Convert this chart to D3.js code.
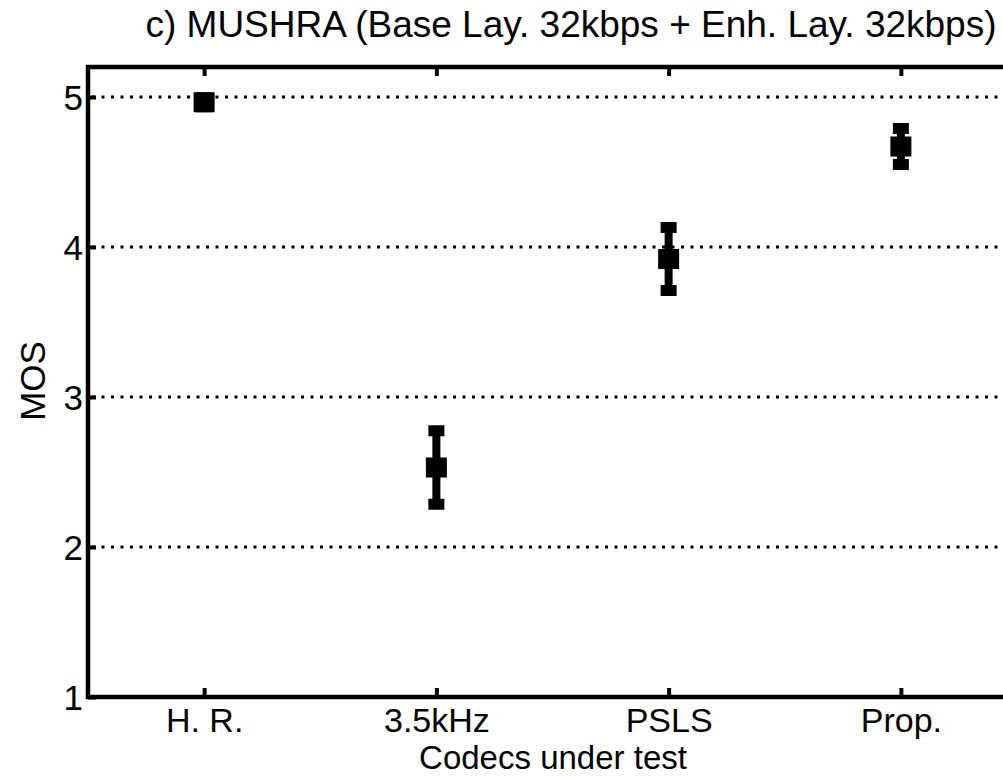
<!DOCTYPE html>
<html>
<head>
<meta charset="utf-8">
<script src="https://cdn.jsdelivr.net/npm/d3@7"></script>
<style>
  body { margin: 0; background: #fff; }
  svg { display: block; }
  text { font-family: "Liberation Sans", Arial, sans-serif; fill: #000; }
</style>
</head>
<body>
<script>
// data
const categories = ["H. R.", "3.5kHz", "PSLS", "Prop."]
const means = [4.965, 2.53, 3.92, 4.67]
const halfCI = [0.03, 0.245, 0.21, 0.12]
const yTicks = [1, 2, 3, 4, 5]
const gridVals = [2, 3, 4, 5]

const width = 1003, height = 777
const plot = {left: 88, right: 1017, top: 67, bottom: 697}

const svg = d3.select("body").append("svg")
  .attr("width", width)
  .attr("height", height)

const x = d3.scalePoint()
  .domain(categories)
  .range([plot.left, plot.right])
  .padding(0.5)

const y = d3.scaleLinear()
  .domain([1, 5.2])
  .range([plot.bottom, plot.top])

const data = categories.map(function(c, i){
  return {name: c, mean: means[i], ci: halfCI[i]}
})

// dotted grid
svg.append("g")
  .selectAll("line")
  .data(gridVals)
  .enter().append("line")
  .attr("x1", plot.left + 4)
  .attr("x2", plot.right)
  .attr("y1", d => y(d))
  .attr("y2", d => y(d))
  .attr("stroke", "#000")
  .attr("stroke-width", 3)
  .attr("stroke-dasharray", "3,6.5")

// axes (inward ticks, no domain path; the box is drawn separately)
const yAxis = svg.append("g")
  .attr("transform", "translate(" + plot.left + ",0)")
  .call(d3.axisLeft(y).tickValues(yTicks).tickFormat(d3.format("d")).tickSize(-8))
yAxis.select(".domain").remove()
yAxis.selectAll("line").attr("stroke-width", 4)
yAxis.selectAll("text").style("font-size", "35px").attr("x", -5).attr("dy", "0.36em")

const xAxis = svg.append("g")
  .attr("transform", "translate(0," + plot.bottom + ")")
  .call(d3.axisBottom(x).tickSize(-9))
xAxis.select(".domain").remove()
xAxis.selectAll("line").attr("stroke-width", 4)
xAxis.selectAll("text").style("font-size", "34px").attr("y", 35).attr("dy", 0)

const xTop = svg.append("g")
  .attr("transform", "translate(0," + plot.top + ")")
  .call(d3.axisTop(x).tickSize(-9).tickFormat(""))
xTop.select(".domain").remove()
xTop.selectAll("line").attr("stroke-width", 4)

// box
svg.append("rect")
  .attr("x", plot.left)
  .attr("y", plot.top)
  .attr("width", plot.right - plot.left)
  .attr("height", plot.bottom - plot.top)
  .attr("fill", "none")
  .attr("stroke", "#000")
  .attr("stroke-width", 4.5)

// error bars
const g = svg.append("g")
g.selectAll(".bar")
  .data(data)
  .enter().append("line")
  .attr("class", "bar")
  .attr("x1", d => x(d.name))
  .attr("x2", d => x(d.name))
  .attr("y1", d => y(d.mean + d.ci))
  .attr("y2", d => y(d.mean - d.ci))
  .attr("stroke", "#000")
  .attr("stroke-width", 8)

g.selectAll(".cap")
  .data(data.flatMap(d => [{name: d.name, v: d.mean + d.ci}, {name: d.name, v: d.mean - d.ci}]))
  .enter().append("rect")
  .attr("class", "cap")
  .attr("x", d => x(d.name) - 8)
  .attr("y", d => y(d.v) - 5.5)
  .attr("width", 16)
  .attr("height", 11)
  .attr("fill", "#000")

g.selectAll(".dot")
  .data(data)
  .enter().append("rect")
  .attr("class", "dot")
  .attr("x", d => x(d.name) - 10.5)
  .attr("y", d => y(d.mean) - 10)
  .attr("width", 21)
  .attr("height", 20)
  .attr("fill", "#000")

// labels
svg.append("text")
  .attr("x", 571)
  .attr("y", 37)
  .attr("text-anchor", "middle")
  .style("font-size", "37px")
  .text("c) MUSHRA (Base Lay. 32kbps + Enh. Lay. 32kbps)")

svg.append("text")
  .attr("x", 553)
  .attr("y", 769)
  .attr("text-anchor", "middle")
  .style("font-size", "33px")
  .text("Codecs under test")

svg.append("text")
  .attr("transform", "translate(45,381) rotate(-90)")
  .attr("text-anchor", "middle")
  .style("font-size", "35px")
  .text("MOS")
</script>
</body>
</html>
